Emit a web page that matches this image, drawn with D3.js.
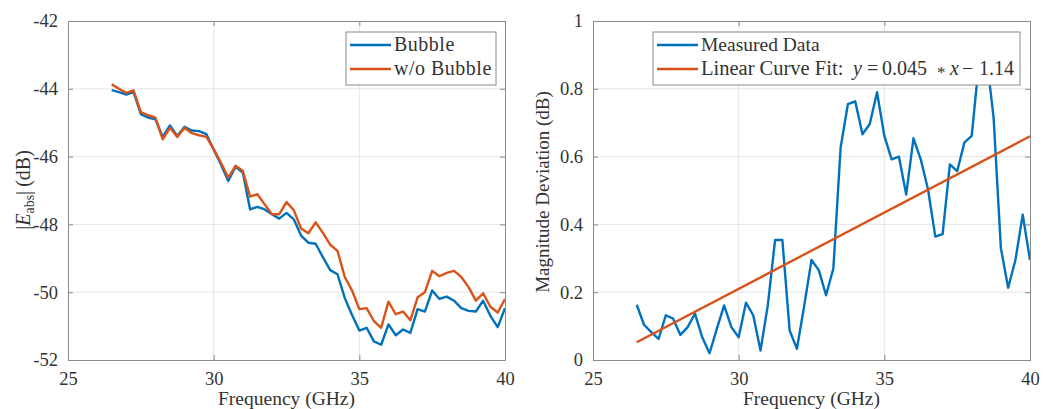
<!DOCTYPE html>
<html><head><meta charset="utf-8">
<script src="https://cdn.jsdelivr.net/npm/d3@7"></script>
<style>body{margin:0;background:#fff;} text{font-family:"Liberation Serif","Times New Roman",serif;fill:#333;}</style>
</head><body><svg id="c" width="1048" height="409"></svg>
<script>
const freq = [26.5,26.75,27,27.25,27.5,27.75,28,28.25,28.5,28.75,29,29.25,29.5,29.75,30,30.25,30.5,30.75,31,31.25,31.5,31.75,32,32.25,32.5,32.75,33,33.25,33.5,33.75,34,34.25,34.5,34.75,35,35.25,35.5,35.75,36,36.25,36.5,36.75,37,37.25,37.5,37.75,38,38.25,38.5,38.75,39,39.25,39.5,39.75,40];
const bubble = [-44.04,-44.10,-44.17,-44.10,-44.75,-44.85,-44.90,-45.42,-45.08,-45.39,-45.12,-45.23,-45.25,-45.34,-45.79,-46.23,-46.72,-46.30,-46.47,-47.56,-47.48,-47.56,-47.70,-47.83,-47.66,-47.85,-48.33,-48.54,-48.57,-48.97,-49.35,-49.47,-50.17,-50.67,-51.13,-51.05,-51.45,-51.55,-50.95,-51.27,-51.10,-51.20,-50.50,-50.57,-49.95,-50.20,-50.13,-50.25,-50.47,-50.55,-50.57,-50.25,-50.70,-51.03,-50.47];
const noBubble = [-43.87,-44.00,-44.12,-44.05,-44.69,-44.78,-44.85,-45.49,-45.15,-45.42,-45.15,-45.31,-45.37,-45.42,-45.78,-46.18,-46.62,-46.27,-46.42,-47.18,-47.11,-47.41,-47.70,-47.70,-47.34,-47.58,-48.12,-48.26,-47.94,-48.25,-48.60,-48.78,-49.55,-49.95,-50.50,-50.47,-50.85,-51.05,-50.28,-50.65,-50.57,-50.83,-50.15,-50.00,-49.37,-49.53,-49.43,-49.37,-49.55,-49.85,-50.25,-50.03,-50.43,-50.60,-50.20];
const deviation = [0.163,0.104,0.082,0.062,0.132,0.122,0.074,0.097,0.137,0.067,0.020,0.092,0.161,0.097,0.067,0.169,0.132,0.028,0.161,0.354,0.354,0.087,0.033,0.160,0.295,0.265,0.191,0.270,0.627,0.755,0.763,0.666,0.696,0.790,0.661,0.592,0.600,0.488,0.654,0.592,0.503,0.364,0.371,0.577,0.557,0.642,0.661,0.880,0.900,0.716,0.330,0.213,0.295,0.429,0.295];
const fitX = [26.5, 40];
const fitY = [0.0525, 0.66];
const xTicks = [25, 30, 35, 40];
const leftYTicks = [-52, -50, -48, -46, -44, -42];
const rightYTicks = [0, 0.2, 0.4, 0.6, 0.8, 1];
const rightYTickLabels = ["0", "0.2", "0.4", "0.6", "0.8", "1"];

const BLUE = "#0072BD", ORANGE = "#D95319";
const svg = d3.select("#c");

function panel(opt){
  const x = d3.scaleLinear().domain([25,40]).range([opt.x0, opt.x1]);
  const y = d3.scaleLinear().domain(opt.yDomain).range([opt.y1, opt.y0]);
  const g = svg.append("g");
  g.selectAll(".gx").data(xTicks.slice(1,-1)).join("line")
    .attr("x1", d=>x(d)).attr("x2", d=>x(d)).attr("y1", opt.y0).attr("y2", opt.y1)
    .attr("stroke", "#e6e6e6").attr("stroke-width", 1);
  g.selectAll(".gy").data(opt.yTicks.slice(1,-1)).join("line")
    .attr("y1", d=>y(d)).attr("y2", d=>y(d)).attr("x1", opt.x0).attr("x2", opt.x1)
    .attr("stroke", "#e6e6e6").attr("stroke-width", 1);
  const clip = "clip" + opt.id;
  svg.append("clipPath").attr("id", clip).append("rect")
    .attr("x", opt.x0).attr("y", opt.y0).attr("width", opt.x1-opt.x0).attr("height", opt.y1-opt.y0);
  const lg = g.append("g").attr("clip-path", `url(#${clip})`);
  opt.series.forEach(s => {
    const line = d3.line().x((d,i)=>x(s.xs[i])).y(d=>y(d));
    lg.append("path").datum(s.ys).attr("d", line).attr("fill","none")
      .attr("stroke", s.color).attr("stroke-width", 2.4).attr("stroke-linejoin","round");
  });
  const axC = "#8a8a8a";
  const bottom = g.append("g").attr("transform", `translate(0,${opt.y1})`)
    .call(d3.axisBottom(x).tickValues(xTicks).tickSize(-5).tickPadding(12).tickFormat(d3.format("d")));
  const top = g.append("g").attr("transform", `translate(0,${opt.y0})`)
    .call(d3.axisTop(x).tickValues(xTicks).tickSize(-5).tickFormat(""));
  const left = g.append("g").attr("transform", `translate(${opt.x0},0)`)
    .call(d3.axisLeft(y).tickValues(opt.yTicks).tickSize(-5).tickPadding(10).tickFormat((d,i)=>opt.yLabels[i]));
  const right = g.append("g").attr("transform", `translate(${opt.x1},0)`)
    .call(d3.axisRight(y).tickValues(opt.yTicks).tickSize(-5).tickFormat(""));
  [bottom, top, left, right].forEach(a => {
    a.select(".domain").attr("stroke", axC).attr("stroke-width", 1);
    a.selectAll(".tick line").attr("stroke", axC);
    a.selectAll("text").attr("font-size", 18.5).attr("fill", "#333")
      .attr("font-family", '"Liberation Serif",serif');
  });
  bottom.selectAll("text").attr("dy", "0.71em");
  g.append("text").attr("x", (opt.x0+opt.x1)/2).attr("y", 405).attr("text-anchor","middle")
    .attr("font-size", 19.5).text("Frequency (GHz)");
  const L = opt.legend;
  const lb = g.append("g");
  lb.append("rect").attr("x", L.x).attr("y", L.y).attr("width", L.w).attr("height", L.h)
    .attr("fill", "#fff").attr("stroke", "#8a8a8a").attr("stroke-width", 1);
  L.items.forEach((it, i) => {
    const yy = L.y + 13 + i*24;
    lb.append("line").attr("x1", L.x+4).attr("x2", L.x+45).attr("y1", yy).attr("y2", yy)
      .attr("stroke", it.color).attr("stroke-width", 2.4);
    const t = lb.append("text").attr("x", L.x+48).attr("y", yy).attr("dy", "0.33em").attr("font-size", 19);
    it.parts.forEach(p => {
      const ts = t.append("tspan").text(p.t);
      if (p.i) ts.attr("font-style", "italic");
      if (p.dx !== undefined) ts.attr("x", L.x + 48 + p.dx);
      if (p.fs) ts.attr("font-size", p.fs);
      if (p.ls) ts.attr("letter-spacing", p.ls);
      if (p.dy) ts.attr("dy", p.dy);
    });
  });
  return g;
}

panel({
  id: "L", x0: 68, x1: 505, y0: 21, y1: 360, yDomain: [-52, -42],
  yTicks: leftYTicks, yLabels: leftYTicks.map(String),
  series: [{xs: freq, ys: bubble, color: BLUE}, {xs: freq, ys: noBubble, color: ORANGE}],
  legend: {x: 346, y: 32, w: 150, h: 53, items: [
    {color: BLUE, parts: [{t: "Bubble", fs: 20, ls: 0.5}]},
    {color: ORANGE, parts: [{t: "w/o Bubble", fs: 20, ls: 0.5}]}]}
});
panel({
  id: "R", x0: 593, x1: 1030, y0: 21, y1: 360, yDomain: [0, 1],
  yTicks: rightYTicks, yLabels: rightYTickLabels,
  series: [{xs: freq, ys: deviation, color: BLUE}, {xs: fitX, ys: fitY, color: ORANGE}],
  legend: {x: 653, y: 32, w: 367, h: 53, items: [
    {color: BLUE, parts: [{t: "Measured Data", fs: 19.5}]},
    {color: ORANGE, parts: [{t: "Linear Curve Fit:", fs: 20.5}, {t: "y", i: true, dx: 152, fs: 20}, {t: "=", dx: 166, fs: 20},
      {t: "0.045", dx: 181, fs: 20}, {t: "*", dx: 236, fs: 17, dy: 3}, {t: "x", i: true, dx: 249, fs: 20, dy: -3},
      {t: "\u2212", dx: 261, fs: 20}, {t: "1.14", dx: 278, fs: 20}]}]}
});

const yl = svg.append("text").attr("transform", "translate(30,190) rotate(-90)")
  .attr("text-anchor", "middle").attr("font-size", 20);
yl.append("tspan").text("|");
yl.append("tspan").attr("font-style", "italic").text("E");
yl.append("tspan").attr("font-size", 14).attr("dy", 4).text("abs");
yl.append("tspan").attr("dy", -4).text("|\u2009(dB)");
svg.append("text").attr("transform", "translate(549,192) rotate(-90)")
  .attr("text-anchor", "middle").attr("font-size", 19).text("Magnitude Deviation (dB)");
</script></body></html>
